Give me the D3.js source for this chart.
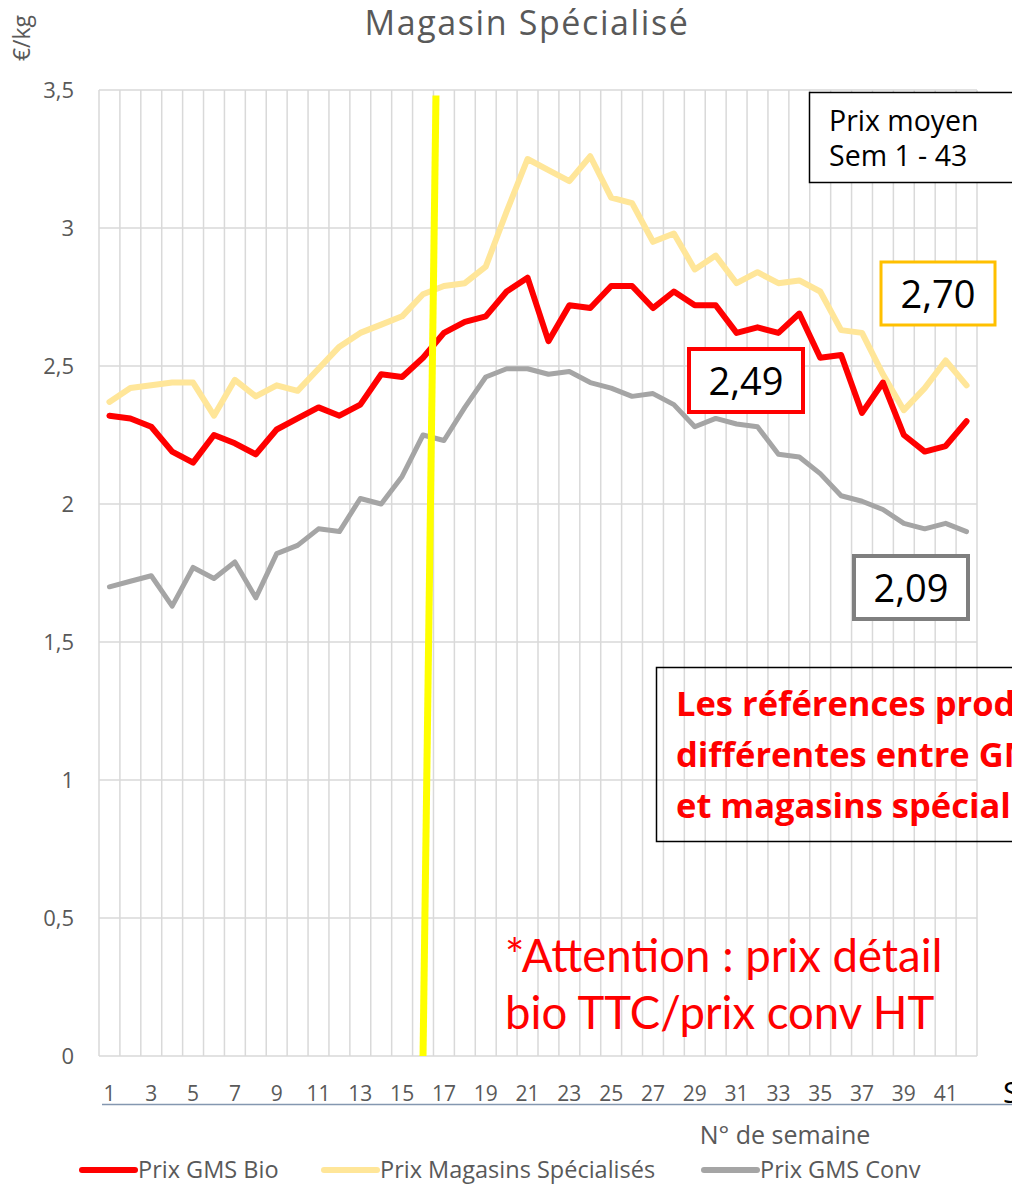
<!DOCTYPE html>
<html>
<head>
<meta charset="utf-8">
<script src="https://cdn.jsdelivr.net/npm/d3@7"></script>
<style>
  body { margin: 0; background: #fff; }
  svg { display: block; }
</style>
</head>
<body>
<div id="chart"></div>
<script>
// Data
const weeks = [1,2,3,4,5,6,7,8,9,10,11,12,13,14,15,16,17,18,19,20,21,
  22,23,24,25,26,27,28,29,30,31,32,33,34,35,36,37,38,39,40,41,42]
const weekTicks = [1,3,5,7,9,11,13,15,17,19,21,23,25,27,29,31,33,35,37,39,41]
const yTicks = [0, 0.5, 1, 1.5, 2, 2.5, 3, 3.5]

const prixBio = [2.32,2.31,2.28,2.19,2.15,2.25,2.22,2.18,2.27,2.31,2.35,2.32,2.36,2.47,
  2.46,2.53,2.62,2.66,2.68,2.77,2.82,2.59,2.72,2.71,2.79,2.79,2.71,2.77,
  2.72,2.72,2.62,2.64,2.62,2.69,2.53,2.54,2.33,2.44,2.25,2.19,2.21,2.30]
const prixMag = [2.37,2.42,2.43,2.44,2.44,2.32,2.45,2.39,2.43,2.41,2.49,2.57,2.62,2.65,
  2.68,2.76,2.79,2.80,2.86,3.06,3.25,3.21,3.17,3.26,3.11,3.09,2.95,2.98,
  2.85,2.90,2.80,2.84,2.80,2.81,2.77,2.63,2.62,2.47,2.34,2.42,2.52,2.43]
const prixConv = [1.70,1.72,1.74,1.63,1.77,1.73,1.79,1.66,1.82,1.85,1.91,1.90,2.02,2.00,
  2.10,2.25,2.23,2.35,2.46,2.49,2.49,2.47,2.48,2.44,2.42,2.39,2.40,2.36,
  2.28,2.31,2.29,2.28,2.18,2.17,2.11,2.03,2.01,1.98,1.93,1.91,1.93,1.90]

const seriesNames = ['Prix GMS Bio', 'Prix Magasins Spécialisés', 'Prix GMS Conv']
const seriesColors = ['#ff0000', '#ffe699', '#a5a5a5']
const averages = ['2,49', '2,70', '2,09']

// yellow marker line (week position at bottom / top)
const markerWeeks = [16.0, 16.62]
const markerValues = [0, 3.48]

// Our canvas
const width = 1012,
  height = 1189,
  plot = { left: 99, right: 977, top: 90, bottom: 1056 }

const font = "'Open Sans', 'Noto Sans', sans-serif"

let svg = d3.select('#chart')
  .append('svg')
  .attr('width', width)
  .attr('height', height)

// scales
const x = d3.scaleBand().domain(weeks).range([plot.left, plot.right])
const xPos = d3.scaleLinear().domain([0.5, 42.5]).range([plot.left, plot.right])
const y = d3.scaleLinear().domain([0, 3.5]).range([plot.bottom, plot.top])

// grid
svg.append('g')
  .selectAll('line.v')
  .data(weeks.concat([43]))
  .enter()
  .append('line')
  .attr('x1', d => xPos(d - 0.5))
  .attr('x2', d => xPos(d - 0.5))
  .attr('y1', y(3.5))
  .attr('y2', y(0))
  .attr('stroke', '#d9d9d9')
  .attr('stroke-width', 1.5)

svg.append('g')
  .selectAll('line.h')
  .data(yTicks)
  .enter()
  .append('line')
  .attr('x1', plot.left)
  .attr('x2', plot.right)
  .attr('y1', d => y(d))
  .attr('y2', d => y(d))
  .attr('stroke', '#d9d9d9')
  .attr('stroke-width', 1.5)

// y axis
let yAxis = svg.append('g')
  .attr('transform', 'translate(' + plot.left + ',0)')
  .call(d3.axisLeft(y).tickValues(yTicks).tickSize(0).tickPadding(25)
    .tickFormat(d => String(d).replace('.', ',')))
yAxis.select('.domain').remove()
yAxis.selectAll('text')
  .attr('font-family', font)
  .attr('font-size', 22)
  .attr('fill', '#595959')

// x axis
let xAxis = svg.append('g')
  .attr('transform', 'translate(0,' + plot.bottom + ')')
  .call(d3.axisBottom(x).tickValues(weekTicks).tickSize(0).tickPadding(30))
xAxis.select('.domain').remove()
xAxis.selectAll('text')
  .attr('font-family', font)
  .attr('font-size', 21)
  .attr('fill', '#595959')

// blue line under the axis labels
svg.append('line')
  .attr('x1', 102).attr('x2', width)
  .attr('y1', 1104.5).attr('y2', 1104.5)
  .attr('stroke', '#8497b0')
  .attr('stroke-width', 1.5)

// the lines
const series = [prixBio, prixMag, prixConv]
const valueline = d3.line()
  .x((d, i) => x(weeks[i]) + x.bandwidth() / 2)
  .y(d => y(d))

const drawOrder = [2, 1, 0]
svg.append('g')
  .selectAll('path')
  .data(drawOrder)
  .enter()
  .append('path')
  .attr('d', k => valueline(series[k]))
  .attr('fill', 'none')
  .attr('stroke', k => seriesColors[k])
  .attr('stroke-width', k => k === 2 ? 5 : 6)
  .attr('stroke-linejoin', 'round')
  .attr('stroke-linecap', 'round')

// yellow marker
svg.append('line')
  .attr('x1', xPos(markerWeeks[0])).attr('y1', y(markerValues[0]))
  .attr('x2', xPos(markerWeeks[1])).attr('y2', y(markerValues[1]))
  .attr('stroke', '#ffff00')
  .attr('stroke-width', 7)

// title and axis labels
svg.append('text')
  .attr('x', 527).attr('y', 35)
  .attr('text-anchor', 'middle')
  .attr('font-family', font)
  .attr('font-size', 34)
  .attr('letter-spacing', 1.6)
  .attr('fill', '#595959')
  .text('Magasin Spécialisé')

svg.append('text')
  .attr('transform', 'translate(30,38) rotate(-90)')
  .attr('text-anchor', 'middle')
  .attr('font-family', font)
  .attr('font-size', 23)
  .attr('fill', '#595959')
  .text('€/kg')

svg.append('text')
  .attr('x', 785).attr('y', 1144)
  .attr('text-anchor', 'middle')
  .attr('font-family', font)
  .attr('font-size', 25)
  .attr('fill', '#595959')
  .text('N° de semaine')

svg.append('text')
  .attr('x', 1003).attr('y', 1103)
  .attr('font-family', font)
  .attr('font-size', 30)
  .attr('fill', '#000')
  .text('S')

// legend
const legendX = [80, 322, 702]
let legend = svg.append('g')
  .selectAll('g')
  .data(seriesNames)
  .enter()
  .append('g')
  .attr('transform', (d, i) => 'translate(' + legendX[i] + ',1170)')
legend.append('line')
  .attr('x1', 2).attr('x2', 55)
  .attr('stroke', (d, i) => seriesColors[i])
  .attr('stroke-width', 6)
  .attr('stroke-linecap', 'round')
legend.append('text')
  .attr('x', 58).attr('y', 8)
  .attr('font-family', font)
  .attr('font-size', 23.5)
  .attr('fill', '#595959')
  .text(d => d)

// boxes
let boxPrix = svg.append('g')
boxPrix.append('rect')
  .attr('x', 809.5).attr('y', 92.5).attr('width', 210).attr('height', 90)
  .attr('fill', '#fff').attr('stroke', '#000').attr('stroke-width', 1.5)
boxPrix.selectAll('text')
  .data(['Prix moyen', 'Sem 1 - 43'])
  .enter()
  .append('text')
  .attr('x', 829)
  .attr('y', (d, i) => 131 + i * 35)
  .attr('font-family', font).attr('font-size', 28.5).attr('fill', '#000')
  .text(d => d)

const avgBoxes = [
  { x: 689, y: 349, stroke: '#ff0000', sw: 4 },
  { x: 881, y: 262, stroke: '#ffc000', sw: 3 },
  { x: 854, y: 556, stroke: '#7f7f7f', sw: 4 }
]
let avg = svg.append('g')
  .selectAll('g')
  .data(averages)
  .enter()
  .append('g')
  .attr('transform', (d, i) => 'translate(' + avgBoxes[i].x + ',' + avgBoxes[i].y + ')')
avg.append('rect')
  .attr('width', 114).attr('height', 63)
  .attr('fill', '#fff')
  .attr('stroke', (d, i) => avgBoxes[i].stroke)
  .attr('stroke-width', (d, i) => avgBoxes[i].sw)
avg.append('text')
  .attr('x', 57).attr('y', 46)
  .attr('text-anchor', 'middle')
  .attr('font-family', font)
  .attr('font-size', 38)
  .attr('fill', '#000')
  .text(d => d)

// note box (transparent)
svg.append('rect')
  .attr('x', 656.5).attr('y', 667.5).attr('width', 400).attr('height', 174)
  .attr('fill', 'none').attr('stroke', '#000').attr('stroke-width', 1.5)
svg.append('text')
  .attr('font-family', "'Open Sans', sans-serif")
  .attr('font-weight', 'bold')
  .attr('font-size', 34.5)
  .attr('fill', '#ff0000')
  .selectAll('tspan')
  .data(['Les références produits', 'différentes entre GMS', 'et magasins spécialisés'])
  .enter()
  .append('tspan')
  .attr('x', 676)
  .attr('y', (d, i) => 716 + i * 51)
  .text(d => d)

svg.append('text')
  .attr('font-family', "Lato, sans-serif")
  .attr('font-size', 45.5)
  .attr('fill', '#ff0000')
  .selectAll('tspan')
  .data(['*Attention : prix détail', 'bio TTC/prix conv HT'])
  .enter()
  .append('tspan')
  .attr('x', 505)
  .attr('y', (d, i) => 972 + i * 57)
  .text(d => d)
</script>
</body>
</html>
